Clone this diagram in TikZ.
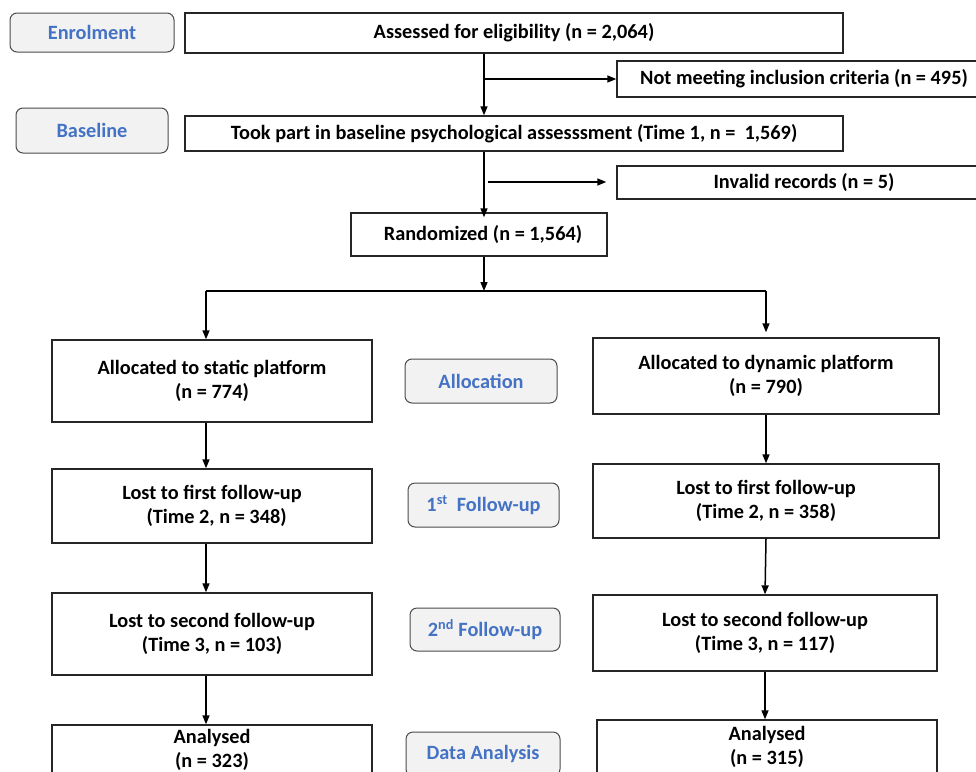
\documentclass[tikz,border=0pt]{standalone}
\usepackage{fontspec}
\setmainfont{Carlito}
\usetikzlibrary{arrows.meta}
\definecolor{lblue}{HTML}{4472C4}
\definecolor{lfill}{HTML}{F2F2F2}
\begin{document}
\begin{tikzpicture}[x=1pt,y=-1pt,
  box/.style={draw=black!85, line width=1.4pt, fill=white, inner sep=0pt, font=\bfseries\fontsize{20.3}{24}\selectfont, align=center},
  lbl/.style={draw=black!70, line width=1pt, fill=lfill, rounded corners=7pt, inner sep=0pt, font=\bfseries\fontsize{20.3}{24}\selectfont, text=lblue},
  arr/.style={line width=1.5pt, -{Triangle[length=9pt,width=7pt]}},
  ln/.style={line width=1.5pt}]
\clip (0,0) rectangle (976,771);
\fill[white] (0,0) rectangle (976,771);
% labels
\node[lbl, minimum width=164, minimum height=39] (enrol) at (92,32.5) {Enrolment};
\node[lbl, minimum width=152, minimum height=45] (base) at (92,130.5) {Baseline};
\node[lbl, minimum width=152, minimum height=44] (alloc) at (481,381) {Allocation};
\node[lbl, minimum width=151, minimum height=44] (fu1) at (483.5,505) {1\textsuperscript{st}\ \ Follow-up};
\node[lbl, minimum width=150, minimum height=43] (fu2) at (485,629.5) {2\textsuperscript{nd} Follow-up};
\node[lbl, minimum width=154, minimum height=44] (dana) at (483,754) {Data Analysis};
% boxes
\node[box, minimum width=658, minimum height=40] (assess) at (514,33) {Assessed for eligibility (n = 2,064)};
\node[box, minimum width=658, minimum height=35] (took) at (514,133.5) {Took part in baseline psychological assesssment (Time 1, n =\ \ 1,569)};
\node[box, minimum width=374, minimum height=36] (notmeet) at (804,79) {Not meeting inclusion criteria (n = 495)};
\node[box, minimum width=374, minimum height=33] (invalid) at (804,182.5) {Invalid records (n = 5)};
\node[box, minimum width=256, minimum height=43] (rand) at (479,234.5) {\hspace*{8pt}Randomized (n = 1,564)};
\node[box, minimum width=320, minimum height=82] (static) at (212,381) {Allocated to static platform\\(n = 774)};
\node[box, minimum width=346, minimum height=76] (dyn) at (766,376) {Allocated to dynamic platform\\(n = 790)};
\node[box, minimum width=320, minimum height=74] (lost1s) at (212,506) {Lost to first follow-up\\\ \ (Time 2, n = 348)};
\node[box, minimum width=346, minimum height=74] (lost1d) at (766,501) {Lost to first follow-up\\(Time 2, n = 358)};
\node[box, minimum width=320, minimum height=82] (lost2s) at (212,634) {Lost to second follow-up\\(Time 3, n = 103)};
\node[box, minimum width=344, minimum height=76] (lost2d) at (765,633) {Lost to second follow-up\\(Time 3, n = 117)};
\node[box, minimum width=320, minimum height=50] (anals) at (212,750) {Analysed\\(n = 323)};
\node[box, minimum width=340, minimum height=54] (anald) at (767,747) {Analysed\\(n = 315)};
% connectors
\coordinate (c1) at (484,0);
\coordinate (L) at (206,291);
\coordinate (R) at (766,291);
\coordinate (M) at (484,291);
\draw[arr] (c1 |- assess.south) -- (c1 |- took.north);
\draw[arr] (c1 |- notmeet.west) -- (notmeet.west);
\draw[arr] (c1 |- took.south) -- ([yshift=-5pt]c1 |- rand.north);
\draw[arr, shorten >=10pt] ([xshift=4pt,yshift=0.5pt]c1 |- invalid.west) -- ([yshift=0.5pt]invalid.west);
\draw[arr] (c1 |- rand.south) -- (M);
\draw[ln] (L) -- (R);
\draw[arr] (L) -- (L |- static.north);
\draw[arr] (R) -- ([yshift=5pt]R |- dyn.north);
\draw[arr] (L |- static.south) -- (L |- lost1s.north);
\draw[arr] (L |- lost1s.south) -- (L |- lost2s.north);
\draw[arr] (L |- lost2s.south) -- (L |- anals.north);
\draw[arr] (R |- dyn.south) -- (R |- lost1d.north);
\draw[arr] (R |- lost1d.south) -- ([xshift=-1pt]R |- lost2d.north);
\draw[arr] ([xshift=-1pt]R |- lost2d.south) -- ([xshift=-1pt]R |- anald.north);
\end{tikzpicture}
\end{document}
